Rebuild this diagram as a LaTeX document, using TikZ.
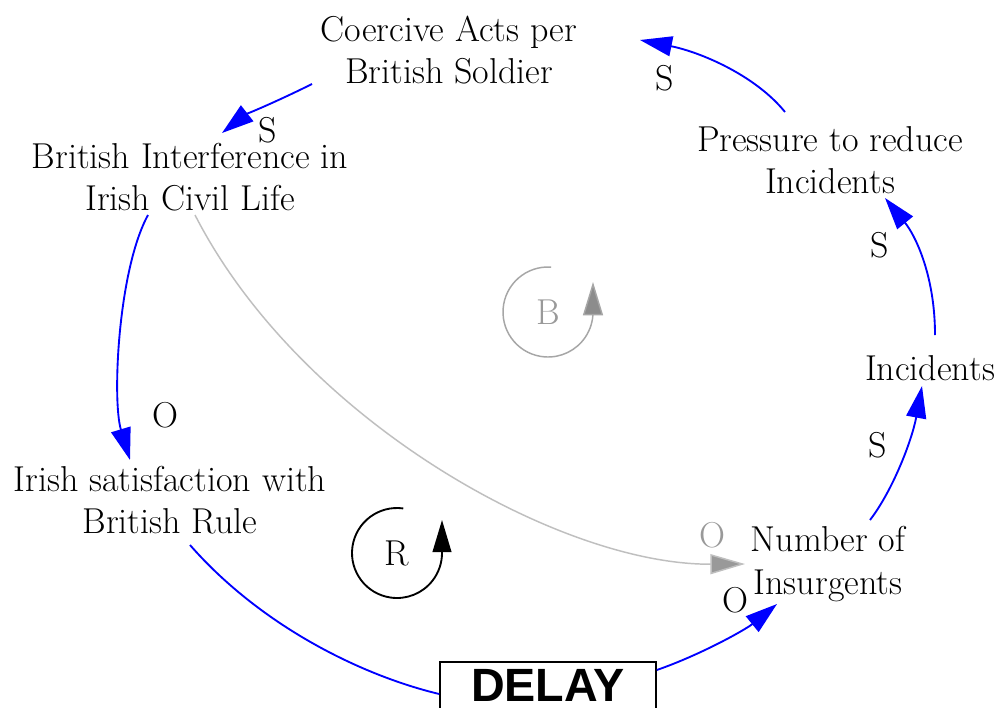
\documentclass[tikz,border=0pt]{standalone}
\usepackage{fontspec}
\newfontfamily\delayfont{Liberation Sans}
\usetikzlibrary{arrows.meta}
\begin{document}
\begin{tikzpicture}[x=0.75pt,y=-0.75pt,
  lbl/.style={font=\rmfamily\fontsize{27}{32}\selectfont, align=center, inner sep=0pt},
  pol/.style={font=\rmfamily\fontsize{27}{30}\selectfont, inner sep=0pt},
  link/.style={draw=blue, line width=1.4pt, -{Triangle[length=24pt,width=15pt]}},
  glink/.style={draw=black!25, line width=1.1pt, -{Triangle[length=26pt,width=15pt,fill=black!40]}},
  loopline/.style={line width=1.4pt, -{Triangle[length=24pt,width=14pt]}}
]
\useasboundingbox (0,0) rectangle (998,707);
\fill[white] (0,0) rectangle (998,707);

% variables
\node[lbl] (coercive) at (449,50) {Coercive Acts per\\British Soldier};
\node[lbl] (interf) at (190,177) {British Interference in\\Irish Civil Life};
\node[lbl] (pressure) at (830,160) {Pressure to reduce\\Incidents};
\node[lbl] (incidents) at (930,368) {Incidents};
\node[lbl] (irish) at (170,500) {Irish satisfaction with\\British Rule};
\node[lbl] (number) at (828,564) {Number of\\Insurgents};
\node[draw, line width=1.2pt, minimum width=162pt, minimum height=48pt, inner sep=0pt,
      fill=white] (delay) at (548,694) {};
\node[font=\delayfont\bfseries\fontsize{35}{36}\selectfont, inner sep=0pt] (delaytext) at (548,685) {DELAY};

% connector end points
\coordinate (a1s) at (312,84);   \coordinate (a1e) at (222,133);
\coordinate (a2s) at (148,215);  \coordinate (a2e) at (130,460);
\coordinate (a3s) at (190,545);
\coordinate (a4e) at (777,604);
\coordinate (a5s) at (870,520);  \coordinate (a5e) at (922,386);
\coordinate (a6s) at (935,335);  \coordinate (a6e) at (885,198);
\coordinate (a7s) at (785,112);  \coordinate (a7e) at (640,40);
\coordinate (gs) at (195,215);   \coordinate (ge) at (745,564);

% blue links
\draw[link] (a1s) .. controls (280,100) and (245,115) .. (a1e);
\draw[link] (a2s) .. controls (118,270) and (112,400) .. (a2e);
\draw[blue, line width=1.4pt] (a3s) .. controls (260,625) and (360,675) .. (delay.west);
\draw[link] (delay.east |- 0,670) .. controls (700,655) and (745,630) .. (a4e);
\draw[link] (a5s) .. controls (893,490) and (912,440) .. (a5e);
\draw[link] (a6s) .. controls (935,275) and (915,235) .. (a6e);
\draw[link] (a7s) .. controls (755,75) and (700,52) .. (a7e);

% gray link
\draw[glink] (gs) .. controls (300,420) and (560,565) .. (ge);

% polarity labels
\node[pol] (p1) at (268,130) {S};
\node[pol] (p2) at (165,415) {O};
\node[pol] (p3) at (735,600) {O};
\node[pol] (p4) at (878,445) {S};
\node[pol] (p5) at (880,245) {S};
\node[pol] (p6) at (665,78) {S};
\node[pol, text=black!40] (p7) at (712,535) {O};

% loop markers
\coordinate (Bc) at (548,312);
\node[pol, text=black!40] (B) at (Bc) {B};
\draw[black!35, line width=1.1pt, -{Triangle[length=25pt,width=15pt,fill=black!45]}]
  ([shift={(86:33.75pt)}]Bc) arc[start angle=86, end angle=360, radius=33.75pt] -- ++(0,-30);

\coordinate (Rc) at (397,553);
\node[pol] (R) at (Rc) {R};
\draw[loopline]
  ([shift={(82:33.75pt)}]Rc) arc[start angle=82, end angle=360, radius=33.75pt] -- ++(0,-33);
\end{tikzpicture}
\end{document}
